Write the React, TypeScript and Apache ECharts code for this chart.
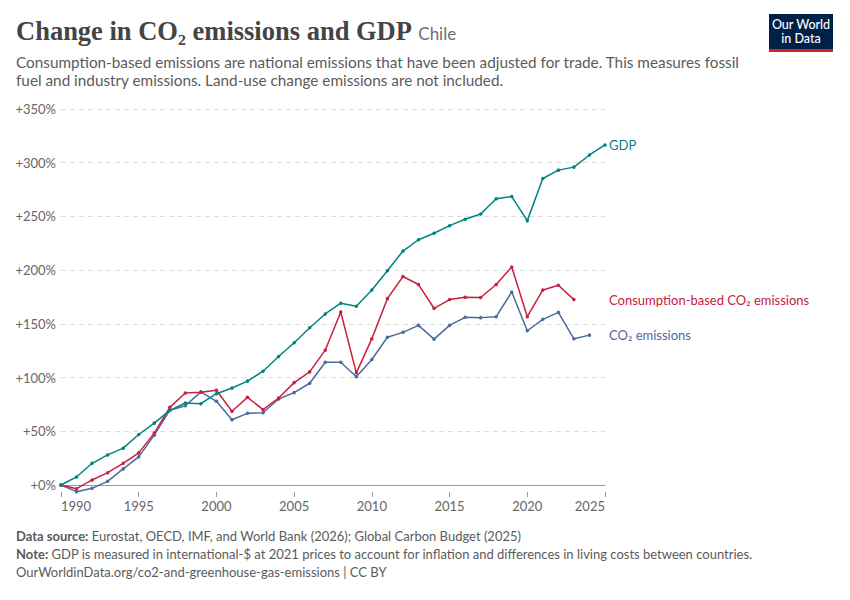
import React, { useEffect, useRef } from "react";
import * as echarts from "echarts";

const years: number[] = Array.from({ length: 36 }, (_, i) => 1990 + i);

const gdp: number[] = [
  0, 7.5, 20.2, 28, 34.3, 47, 57.6, 69.5, 76.3, 75.7,
  85, 90.3, 96.7, 105.9, 119.6, 132.4, 146.4, 159.2, 169.2, 166.4,
  181.6, 199.5, 217.8, 228.3, 234.3, 241.4, 247.4, 252.3, 266.4, 268.5,
  246.1, 285.3, 293.1, 295.9, 307.2, 316.5,
];

const consumptionCO2: number[] = [
  0, -3.4, 4.7, 11.5, 20.2, 29.9, 48.3, 72.3, 85.7, 86.4,
  88.2, 68.7, 81.6, 70.1, 81, 95.3, 105.3, 125.5, 161, 104.4,
  136.2, 173.5, 194.1, 186.6, 164.5, 172.6, 174.8, 174.5, 186.6, 203,
  156.7, 181.6, 186, 172.6,
];

const co2: number[] = [
  0, -6.2, -3.1, 3.4, 15, 26.2, 46.4, 69.5, 73.8, 86.7,
  77.9, 60.8, 66.7, 67.3, 80.1, 86, 94.7, 114.3, 114.3, 100.7,
  116.8, 137.5, 142.1, 148.6, 135.8, 148.6, 156.1, 155.8, 156.7, 179.7,
  143.6, 154.2, 160.7, 136.1, 139.5,
];

const seriesNames = ["GDP", "Consumption-based CO₂ emissions", "CO₂ emissions"];
const seriesColors = ["#00847e", "#c8213f", "#4c6a9c"];
const yTicks = [0, 50, 100, 150, 200, 250, 300, 350];
const xMin = 1990;
const xMax = 2025;

const FONT = "Lato, 'Noto Sans', sans-serif";

export default function App() {
  const ref = useRef<HTMLDivElement>(null);

  useEffect(() => {
    document.body.style.margin = "0";
    if (!ref.current) return;
    const chart = echarts.init(ref.current, undefined, { renderer: "svg" });

    const all = [gdp, consumptionCO2, co2];
    const series = all.map((vals, i) => ({
      name: seriesNames[i],
      type: "line",
      xAxisIndex: 0,
      data: vals.map((v, j) => [years[j], v]),
      clip: false,
      symbol: "circle",
      symbolSize: 3.5,
      showSymbol: true,
      lineStyle: { width: 1.5, color: seriesColors[i] },
      itemStyle: { color: seriesColors[i] },
      z: 3 - i,
      markPoint: {
        symbol: "circle",
        symbolSize: 0.1,
        silent: true,
        itemStyle: { color: "transparent" },
        label: {
          show: true,
          position: "right",
          distance: 4,
          formatter: seriesNames[i],
          color: seriesColors[i],
          fontFamily: FONT,
          fontSize: 13,
        },
        data: [{ coord: [xMax, vals[vals.length - 1]] }],
      },
    }));

    const footLine = (y: number, bold: string, rest: string) => ({
      type: "text",
      x: 16,
      y,
      style: {
        text: bold ? `{b|${bold}} {n|${rest}}` : `{n|${rest}}`,
        verticalAlign: "middle",
        rich: {
          b: { fontFamily: FONT, fontSize: 13, fontWeight: "bold", fill: "#5b5b5b" },
          n: { fontFamily: FONT, fontSize: 13, fill: "#5b5b5b" },
        },
      },
    });

    chart.setOption({
      animation: false,
      grid: { left: 61, right: 245, top: 109, bottom: 115, containLabel: false },
      xAxis: [
        {
          type: "value",
          min: xMin,
          max: xMax,
          interval: 5,
          axisLine: { show: true, lineStyle: { color: "#9a9a9a", width: 1 } },
          axisTick: { show: false },
          splitLine: { show: false },
          axisLabel: {
            color: "#666",
            fontFamily: FONT,
            fontSize: 13,
            margin: 14,
            alignMinLabel: "left",
            alignMaxLabel: "right",
            formatter: (v: number) => String(v),
          },
        },
        {
          type: "value",
          position: "bottom",
          offset: 7,
          min: xMin,
          max: xMax,
          interval: 5,
          axisLine: { show: false },
          axisTick: { show: true, length: 5, lineStyle: { color: "#9a9a9a" } },
          splitLine: { show: false },
          axisLabel: { show: false },
        },
      ],
      yAxis: {
        type: "value",
        min: yTicks[0],
        max: yTicks[yTicks.length - 1],
        interval: 50,
        axisLine: { show: false },
        axisTick: { show: false },
        splitLine: { show: true, lineStyle: { color: "#dddddd", type: [5, 4], width: 1 } },
        axisLabel: {
          color: "#666",
          fontFamily: FONT,
          fontSize: 13,
          margin: 5,
          formatter: (v: number) => `+${v}%`,
        },
      },
      series,
      graphic: [
        {
          type: "text",
          x: 16,
          y: 31,
          style: {
            text: "{t|Change in CO₂ emissions and GDP} {c|Chile}",
            verticalAlign: "middle",
            rich: {
              t: {
                fontFamily: "'Liberation Serif', 'DejaVu Serif', serif",
                fontSize: 26.5,
                fontWeight: 600,
                fill: "#444444",
              },
              c: {
                fontFamily: FONT,
                fontSize: 17,
                fill: "#6e6e6e",
                padding: [4, 0, 0, 3],
              },
            },
          },
        },
        {
          type: "text",
          x: 16,
          y: 53,
          style: {
            text:
              "Consumption-based emissions are national emissions that have been adjusted for trade. This measures fossil\nfuel and industry emissions. Land-use change emissions are not included.",
            fontFamily: FONT,
            fontSize: 15.3,
            lineHeight: 18,
            fill: "#5b5b5b",
          },
        },
        {
          type: "group",
          children: [
            { type: "rect", shape: { x: 769, y: 14, width: 64, height: 38 }, style: { fill: "#002147" } },
            { type: "rect", shape: { x: 769, y: 49, width: 64, height: 3 }, style: { fill: "#ce261e" } },
            {
              type: "text",
              x: 801,
              y: 31,
              style: {
                text: "Our World\nin Data",
                align: "center",
                verticalAlign: "middle",
                fontFamily: FONT,
                fontSize: 12.5,
                fontWeight: 500,
                lineHeight: 14,
                fill: "#ffffff",
              },
            },
          ],
        },
        footLine(536, "Data source:", "Eurostat, OECD, IMF, and World Bank (2026); Global Carbon Budget (2025)"),
        footLine(554, "Note:", "GDP is measured in international-$ at 2021 prices to account for inflation and differences in living costs between countries."),
        footLine(571.5, "", "OurWorldinData.org/co2-and-greenhouse-gas-emissions | CC BY"),
      ],
    });

    return () => chart.dispose();
  }, []);

  return <div ref={ref} style={{ width: 850, height: 600 }} />;
}
